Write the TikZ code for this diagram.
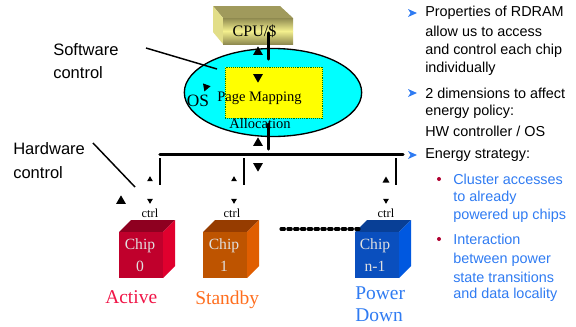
\documentclass[tikz,border=0pt]{standalone}
\usepackage{fontspec}
\setmainfont{Liberation Serif}
\newfontfamily\arial{Liberation Sans}
\usetikzlibrary{shapes.geometric}
\definecolor{blu}{HTML}{2F7BF2}
\definecolor{dred}{HTML}{B00030}
\definecolor{cyn}{HTML}{00FFFF}
\definecolor{yel}{HTML}{FFFF00}
\definecolor{redf}{HTML}{C0002C}\definecolor{redt}{HTML}{8E0020}\definecolor{reds}{HTML}{E0002E}
\definecolor{orgf}{HTML}{BE5400}\definecolor{orgt}{HTML}{963C00}\definecolor{orgs}{HTML}{E05E00}
\definecolor{bluf}{HTML}{0A4FBE}\definecolor{blut}{HTML}{083F96}\definecolor{blus}{HTML}{0058E0}
\definecolor{cpud}{HTML}{8F8A50}\definecolor{cpul}{HTML}{F4F08E}\definecolor{cput}{HTML}{A09A5C}\definecolor{cpus}{HTML}{E2DE88}
\tikzset{x=0.75pt,y=-0.75pt,
 lab/.style={font=\arial\fontsize{12.4}{15}\selectfont,anchor=west,inner sep=0pt},
 rt/.style={font=\arial\fontsize{10.8}{13}\selectfont,anchor=west,inner sep=0pt},
 rtb/.style={rt,text=blu},
 tinyl/.style={font=\fontsize{9.3}{11}\selectfont,inner sep=0pt},
 state/.style={font=\fontsize{14.6}{17}\selectfont,inner sep=0pt,anchor=west},
 chiptext/.style={font=\fontsize{11.7}{14}\selectfont,text=white!88!black,inner sep=0pt},
 wire/.style={line width=2.5pt,line cap=round},
 vwire/.style={line width=1.1pt},
 tri/.style={regular polygon,regular polygon sides=3,fill=black,inner sep=0pt,minimum size=#1},
 tri/.default=8.5pt,
 dot/.style={circle,fill=dred,inner sep=0pt,minimum size=3pt}
}
\newcommand{\chipbox}[7]{%
 \fill[#4] (#1,232) -- (#1+12,220) -- (#1+56,220) -- (#1+44,232) -- cycle;
 \fill[#5] (#1+44,232) -- (#1+56,220) -- (#1+56,266) -- (#1+44,278) -- cycle;
 \node[fill=#3,minimum width=33pt,minimum height=34.5pt,inner sep=0pt,anchor=north west] (#2) at (#1,232) {};
 \node[chiptext,align=center] at (#1+#7,255) {Chip\\[2.5pt]#6};
}
\newcommand{\chev}[1]{\fill[blu] (408,#1-4) -- (417,#1) -- (408,#1+4) -- (410.5,#1) -- cycle;}
\begin{document}
\begin{tikzpicture}
\useasboundingbox (0,0) rectangle (576,326);
% CPU
\fill[cput] (213,6) -- (280,6) -- (293,18) -- (223,18) -- cycle;
\fill[cpus] (213,6) -- (223,18) -- (223,44) -- (213,32) -- cycle;
\shade[top color=cpud,bottom color=cpul] (223,18) rectangle (293,31);
\shade[top color=cpul,bottom color=cpud] (223,31) rectangle (293,44);
\node[font=\fontsize{12}{14}\selectfont,inner sep=0pt] (cpu) at (254.5,31) {CPU/\$};
% OS
\node[ellipse,draw,line width=1pt,fill=cyn,minimum width=133pt,minimum height=66pt,inner sep=0pt] (os) at (273,92.5) {};
\node[draw=green!50!black,densely dotted,fill=yel,minimum width=73pt,minimum height=38pt,inner sep=0pt] (pm) at (274,92.5) {};
\node[font=\fontsize{10.9}{13}\selectfont,inner sep=0pt] (pmt) at (259.5,98) {Page Mapping};
\node[font=\fontsize{10.9}{13}\selectfont,inner sep=0pt] (alloc) at (260,124) {Allocation};
\node[font=\fontsize{13}{15}\selectfont,inner sep=0pt] (ost) at (198,101) {OS};
% bus
\coordinate (busl) at (160,154.5);
\coordinate (busr) at (403,154.5);
\draw[wire] (busl) -- (busr);
\coordinate (a1) at (268.7,33); \coordinate (a2) at (268.7,59);
\draw[wire] (a1) -- (a2);
\coordinate (b1) at (268.7,124); \coordinate (b2) at (268.7,149);
\draw[wire] (b1) -- (b2);
\foreach \n/\x in {v0/160,v1/244,v2/396}{
  \coordinate (\n t) at (\x,158); \coordinate (\n b) at (\x,185);
  \draw[vwire] (\n t) -- (\n b);
}
% triangles
\node[tri] (t1) at (258,52) {};
\node[tri,shape border rotate=180] (t2) at (258,77) {};
\node[tri=7pt,shape border rotate=-80] (t3) at (206,87) {};
\node[tri] (t4) at (258,143) {};
\node[tri,shape border rotate=180] (t5) at (258,166) {};
\node[tri] (t6) at (121,201) {};
\foreach \n/\x in {p/150,q/234}{
  \node[tri=5pt] (\n u) at (\x,179.5) {};
  \node[tri=5pt,shape border rotate=180] (\n d) at (\x,200.5) {};
}
\node[tri=6pt] (ru) at (386,180.5) {};
\node[tri=5pt,shape border rotate=180] (rd) at (386,200.5) {};
\node[tinyl] (c0) at (150,213) {ctrl};
\node[tinyl] (c1) at (232,213) {ctrl};
\node[tinyl] (c2) at (386,213) {ctrl};
% chips
\chipbox{119}{chip0}{redf}{redt}{reds}{0}{21}
\chipbox{203}{chip1}{orgf}{orgt}{orgs}{1}{21}
\chipbox{355}{chipn}{bluf}{blut}{blus}{n-1}{20}
\coordinate (d1) at (281,229); \coordinate (d2) at (359,229);
\draw[line width=2.3pt,dash pattern=on 2.6pt off 2.5pt,line cap=round] (d1) -- (d2);
% state labels
\node[state,text={rgb,255:red,240;green,20;blue,70}] (act) at (105,297) {Active};
\node[state,text={rgb,255:red,255;green,110;blue,30}] (stb) at (195,300) {Standby};
\node[state,text=blu] (pw) at (355,293) {Power};
\node[state,text=blu] (dn) at (355,315.5) {Down};
% left labels
\node[lab] (sw) at (53,50) {Software};
\node[lab] (swc) at (53,73) {control};
\node[lab] (hw) at (13,149) {Hardware};
\node[lab] (hwc) at (13,173) {control};
\coordinate (s1) at (146,48); \coordinate (s2) at (217,69);
\draw[line width=1.1pt] (s1) -- (s2);
\coordinate (h1) at (93,143); \coordinate (h2) at (135,187);
\draw[line width=1.1pt] (h1) -- (h2);
% right text
\chev{13}\chev{93}\chev{155}
\node[rt] (l1) at (425,13) {Properties of RDRAM};
\node[rt] (l2) at (425,31) {allow us to access};
\node[rt] (l3) at (425,51) {and control each chip};
\node[rt] (l4) at (425,69) {individually};
\node[rt] (l5) at (425,93) {2 dimensions to affect};
\node[rt] (l6) at (425,112) {energy policy:};
\node[rt] (l7) at (425,131) {HW controller / OS};
\node[rt] (l8) at (425,155) {Energy strategy:};
\node[dot] (e1) at (439,179) {};
\node[dot] (e2) at (439,239) {};
\node[rtb] (m1) at (453,179) {Cluster accesses};
\node[rtb] (m2) at (453,198) {to already};
\node[rtb] (m3) at (453,215.5) {powered up chips};
\node[rtb] (m4) at (453,239) {Interaction};
\node[rtb] (m5) at (453,259.5) {between power};
\node[rtb] (m6) at (453,277) {state transitions};
\node[rtb] (m7) at (453,295) {and data locality};
\end{tikzpicture}
\end{document}
